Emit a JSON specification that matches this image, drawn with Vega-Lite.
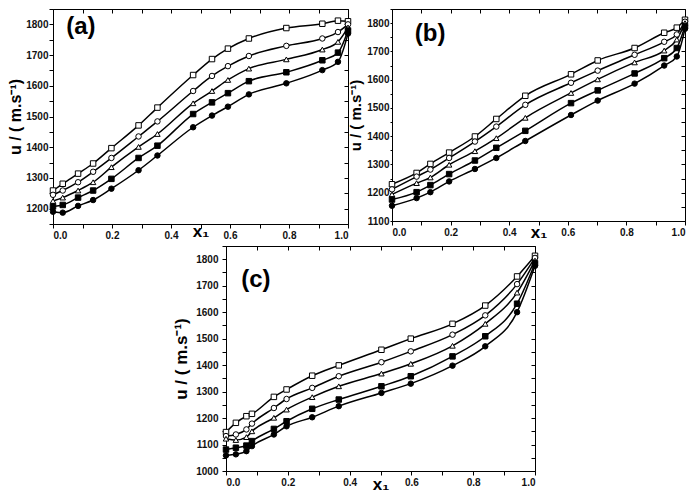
{
  "$schema": "https://vega.github.io/schema/vega-lite/v6.json",
  "background": "white",
  "padding": {"left": 7, "top": 3, "right": 0, "bottom": 0},
  "config": {
    "font": "Liberation Sans",
    "view": {"stroke": "black", "strokeWidth": 1},
    "axis": {
      "labelFont": "Liberation Sans", "labelFontWeight": "bold", "labelFontSize": 10, "labelColor": "#111",
      "tickColor": "black", "domainColor": "black", "tickSize": 4, "grid": false,
      "titleFont": "Liberation Sans", "titleFontWeight": "bold", "titleColor": "black", "labelOverlap": false
    }
  },
  "datasets": {
    "a": [
      {"x": 0, "S1": 1259, "S2": 1245, "S3": 1225, "S4": 1207, "S5": 1190},
      {"x": 0.033, "S1": 1281, "S2": 1259, "S3": 1236, "S4": 1212, "S5": 1187},
      {"x": 0.085, "S1": 1314, "S2": 1286, "S3": 1259, "S4": 1236, "S5": 1209},
      {"x": 0.136, "S1": 1347, "S2": 1320, "S3": 1286, "S4": 1259, "S5": 1228},
      {"x": 0.198, "S1": 1397, "S2": 1365, "S3": 1335, "S4": 1297, "S5": 1265},
      {"x": 0.29, "S1": 1471, "S2": 1435, "S3": 1401, "S4": 1365, "S5": 1325},
      {"x": 0.354, "S1": 1529, "S2": 1484, "S3": 1443, "S4": 1405, "S5": 1373},
      {"x": 0.475, "S1": 1635, "S2": 1583, "S3": 1543, "S4": 1508, "S5": 1465},
      {"x": 0.539, "S1": 1687, "S2": 1632, "S3": 1583, "S4": 1546, "S5": 1503},
      {"x": 0.593, "S1": 1721, "S2": 1664, "S3": 1619, "S4": 1576, "S5": 1532},
      {"x": 0.664, "S1": 1754, "S2": 1697, "S3": 1656, "S4": 1615, "S5": 1572},
      {"x": 0.791, "S1": 1788, "S2": 1730, "S3": 1686, "S4": 1644, "S5": 1608},
      {"x": 0.913, "S1": 1802, "S2": 1754, "S3": 1718, "S4": 1683, "S5": 1651},
      {"x": 0.966, "S1": 1812, "S2": 1775, "S3": 1743, "S4": 1708, "S5": 1678},
      {"x": 1.0, "S1": 1810, "S2": 1800, "S3": 1790, "S4": 1780, "S5": 1770}
    ],
    "b": [
      {"x": 0, "S1": 1230, "S2": 1212, "S3": 1194, "S4": 1176, "S5": 1154},
      {"x": 0.084, "S1": 1270, "S2": 1257, "S3": 1234, "S4": 1202, "S5": 1181},
      {"x": 0.131, "S1": 1302, "S2": 1282, "S3": 1254, "S4": 1227, "S5": 1202},
      {"x": 0.195, "S1": 1342, "S2": 1323, "S3": 1299, "S4": 1266, "S5": 1240},
      {"x": 0.283, "S1": 1399, "S2": 1381, "S3": 1347, "S4": 1314, "S5": 1284},
      {"x": 0.356, "S1": 1461, "S2": 1434, "S3": 1393, "S4": 1359, "S5": 1323},
      {"x": 0.455, "S1": 1543, "S2": 1511, "S3": 1465, "S4": 1419, "S5": 1383},
      {"x": 0.611, "S1": 1619, "S2": 1589, "S3": 1553, "S4": 1517, "S5": 1475},
      {"x": 0.702, "S1": 1668, "S2": 1632, "S3": 1601, "S4": 1562, "S5": 1526},
      {"x": 0.828, "S1": 1712, "S2": 1688, "S3": 1661, "S4": 1622, "S5": 1586},
      {"x": 0.929, "S1": 1766, "S2": 1734, "S3": 1703, "S4": 1676, "S5": 1650},
      {"x": 0.972, "S1": 1784, "S2": 1760, "S3": 1742, "S4": 1712, "S5": 1682},
      {"x": 1.0, "S1": 1812, "S2": 1805, "S3": 1800, "S4": 1790, "S5": 1780}
    ],
    "c": [
      {"x": 0, "S1": 1147, "S2": 1132, "S3": 1122, "S4": 1081, "S5": 1059},
      {"x": 0.032, "S1": 1182, "S2": 1138, "S3": 1117, "S4": 1088, "S5": 1063},
      {"x": 0.066, "S1": 1207, "S2": 1157, "S3": 1128, "S4": 1096, "S5": 1075},
      {"x": 0.084, "S1": 1216, "S2": 1179, "S3": 1150, "S4": 1113, "S5": 1094},
      {"x": 0.155, "S1": 1280, "S2": 1238, "S3": 1201, "S4": 1159, "S5": 1138},
      {"x": 0.196, "S1": 1308, "S2": 1272, "S3": 1232, "S4": 1188, "S5": 1169},
      {"x": 0.279, "S1": 1360, "S2": 1314, "S3": 1279, "S4": 1235, "S5": 1203},
      {"x": 0.365, "S1": 1399, "S2": 1358, "S3": 1320, "S4": 1270, "S5": 1245},
      {"x": 0.503, "S1": 1458, "S2": 1411, "S3": 1368, "S4": 1320, "S5": 1295},
      {"x": 0.598, "S1": 1500, "S2": 1452, "S3": 1405, "S4": 1358, "S5": 1330},
      {"x": 0.733, "S1": 1556, "S2": 1515, "S3": 1473, "S4": 1433, "S5": 1398},
      {"x": 0.839, "S1": 1625, "S2": 1588, "S3": 1556, "S4": 1509, "S5": 1471},
      {"x": 0.942, "S1": 1735, "S2": 1706, "S3": 1674, "S4": 1632, "S5": 1600},
      {"x": 1.0, "S1": 1813, "S2": 1805, "S3": 1795, "S4": 1785, "S5": 1775}
    ]
  },
  "spacing": -1,
  "vconcat": [
    {
      "spacing": -6,
      "hconcat": [
        {
          "width": 295, "height": 215,
          "data": {"name": "a"},
          "transform": [{"fold": ["S1", "S2", "S3", "S4", "S5"], "as": ["s", "u"]}],
          "layer": [
            {
              "mark": {"type": "line", "interpolate": "monotone", "color": "black", "strokeWidth": 1.5},
              "encoding": {
                "x": {"field": "x", "type": "quantitative", "scale": {"domain": [0, 1], "nice": false},
                  "axis": {"title": "x₁", "titleFontSize": 17, "titleBaseline": "alphabetic", "titleY": 12, "values": [0, 0.1, 0.2, 0.3, 0.4, 0.5, 0.6, 0.7, 0.8, 0.9, 1.0], "labelExpr": "round(datum.value*10) % 2 == 0 ? format(datum.value, '.1f') : ''", "labelPadding": 2}},
                "y": {"field": "u", "type": "quantitative", "scale": {"domain": [1150, 1850], "nice": false, "zero": false},
                  "axis": {"title": "u / ( m.s⁻¹)", "titleFontSize": 16, "titlePadding": 2, "labelPadding": 1, "format": "d", "values": [1150, 1200, 1250, 1300, 1350, 1400, 1450, 1500, 1550, 1600, 1650, 1700, 1750, 1800, 1850], "labelExpr": "datum.value % 100 == 0 ? datum.label : ''"}},
                "detail": {"field": "s"}
              }
            },
            {
              "mark": {"type": "point", "filled": true, "size": 30, "stroke": "black", "strokeWidth": 1, "opacity": 1},
              "encoding": {
                "x": {"field": "x", "type": "quantitative", "axis": {"orient": "top", "labels": false, "title": null, "domain": false, "tickSize": -4, "values": [0, 0.1, 0.2, 0.3, 0.4, 0.5, 0.6, 0.7, 0.8, 0.9, 1.0]}},
                "y": {"field": "u", "type": "quantitative", "axis": {"orient": "right", "labels": false, "title": null, "domain": false, "tickSize": -4, "values": [1150, 1200, 1250, 1300, 1350, 1400, 1450, 1500, 1550, 1600, 1650, 1700, 1750, 1800, 1850]}},
                "shape": {"field": "s", "scale": {"domain": ["S1", "S2", "S3", "S4", "S5"], "range": ["square", "circle", "triangle-up", "square", "circle"]}, "legend": null},
                "fill": {"field": "s", "scale": {"domain": ["S1", "S2", "S3", "S4", "S5"], "range": ["white", "white", "white", "black", "black"]}, "legend": null}
              }
            },
            {
              "data": {"values": [{"t": "(a)"}]},
              "mark": {"type": "text", "fontSize": 24, "fontWeight": "bold", "align": "left", "baseline": "middle", "color": "black"},
              "encoding": {
                "text": {"field": "t"},
                "x": {"datum": 0.045, "type": "quantitative", "axis": null},
                "y": {"datum": 1790, "type": "quantitative", "axis": null}
              }
            }
          ],
          "resolve": {"axis": {"x": "independent", "y": "independent"}}
        },
        {
          "width": 293, "height": 212,
          "data": {"name": "b"},
          "transform": [{"fold": ["S1", "S2", "S3", "S4", "S5"], "as": ["s", "u"]}],
          "layer": [
            {
              "mark": {"type": "line", "interpolate": "monotone", "color": "black", "strokeWidth": 1.5},
              "encoding": {
                "x": {"field": "x", "type": "quantitative", "scale": {"domain": [0, 1], "nice": false},
                  "axis": {"title": "x₁", "titleFontSize": 17, "titleBaseline": "alphabetic", "titleY": 16, "values": [0, 0.1, 0.2, 0.3, 0.4, 0.5, 0.6, 0.7, 0.8, 0.9, 1.0], "labelExpr": "round(datum.value*10) % 2 == 0 ? format(datum.value, '.1f') : ''", "labelPadding": 2}},
                "y": {"field": "u", "type": "quantitative", "scale": {"domain": [1100, 1850], "nice": false, "zero": false},
                  "axis": {"title": "u / ( m.s⁻¹)", "titleFontSize": 15, "titlePadding": 3, "labelPadding": 1, "tickSize": 2, "format": "d", "values": [1100, 1150, 1200, 1250, 1300, 1350, 1400, 1450, 1500, 1550, 1600, 1650, 1700, 1750, 1800, 1850], "labelExpr": "datum.value % 100 == 0 ? datum.label : ''"}},
                "detail": {"field": "s"}
              }
            },
            {
              "mark": {"type": "point", "filled": true, "size": 30, "stroke": "black", "strokeWidth": 1, "opacity": 1},
              "encoding": {
                "x": {"field": "x", "type": "quantitative", "axis": {"orient": "top", "labels": false, "title": null, "domain": false, "tickSize": -4, "values": [0, 0.1, 0.2, 0.3, 0.4, 0.5, 0.6, 0.7, 0.8, 0.9, 1.0]}},
                "y": {"field": "u", "type": "quantitative", "axis": {"orient": "right", "labels": false, "title": null, "domain": false, "tickSize": -4, "values": [1100, 1150, 1200, 1250, 1300, 1350, 1400, 1450, 1500, 1550, 1600, 1650, 1700, 1750, 1800, 1850]}},
                "shape": {"field": "s", "scale": {"domain": ["S1", "S2", "S3", "S4", "S5"], "range": ["square", "circle", "triangle-up", "square", "circle"]}, "legend": null},
                "fill": {"field": "s", "scale": {"domain": ["S1", "S2", "S3", "S4", "S5"], "range": ["white", "white", "white", "black", "black"]}, "legend": null}
              }
            },
            {
              "data": {"values": [{"t": "(b)"}]},
              "mark": {"type": "text", "fontSize": 24, "fontWeight": "bold", "align": "left", "baseline": "middle", "color": "black"},
              "encoding": {
                "text": {"field": "t"},
                "x": {"datum": 0.078, "type": "quantitative", "axis": null},
                "y": {"datum": 1763, "type": "quantitative", "axis": null}
              }
            }
          ],
          "resolve": {"axis": {"x": "independent", "y": "independent"}}
        }
      ]
    },
    {
      "spacing": 0,
      "hconcat": [
        {
          "width": 119, "height": 10,
          "data": {"values": []},
          "mark": {"type": "point", "opacity": 0},
          "encoding": {},
          "view": {"stroke": null}
        },
        {
          "width": 309, "height": 225,
          "data": {"name": "c"},
          "transform": [{"fold": ["S1", "S2", "S3", "S4", "S5"], "as": ["s", "u"]}],
          "layer": [
            {
              "mark": {"type": "line", "interpolate": "monotone", "color": "black", "strokeWidth": 1.5},
              "encoding": {
                "x": {"field": "x", "type": "quantitative", "scale": {"domain": [0, 1], "nice": false},
                  "axis": {"title": "x₁", "titleFontSize": 17, "titleBaseline": "alphabetic", "titleY": 18, "values": [0, 0.1, 0.2, 0.3, 0.4, 0.5, 0.6, 0.7, 0.8, 0.9, 1.0], "labelExpr": "round(datum.value*10) % 2 == 0 ? format(datum.value, '.1f') : ''", "labelPadding": 2}},
                "y": {"field": "u", "type": "quantitative", "scale": {"domain": [1000, 1850], "nice": false, "zero": false},
                  "axis": {"title": "u / ( m.s⁻¹)", "titleFontSize": 17, "titlePadding": 5, "labelPadding": 4, "format": "d", "values": [1000, 1050, 1100, 1150, 1200, 1250, 1300, 1350, 1400, 1450, 1500, 1550, 1600, 1650, 1700, 1750, 1800, 1850], "labelExpr": "datum.value % 100 == 0 ? datum.label : ''"}},
                "detail": {"field": "s"}
              }
            },
            {
              "mark": {"type": "point", "filled": true, "size": 30, "stroke": "black", "strokeWidth": 1, "opacity": 1},
              "encoding": {
                "x": {"field": "x", "type": "quantitative", "axis": {"orient": "top", "labels": false, "title": null, "domain": false, "tickSize": -4, "values": [0, 0.1, 0.2, 0.3, 0.4, 0.5, 0.6, 0.7, 0.8, 0.9, 1.0]}},
                "y": {"field": "u", "type": "quantitative", "axis": {"orient": "right", "labels": false, "title": null, "domain": false, "tickSize": -4, "values": [1000, 1050, 1100, 1150, 1200, 1250, 1300, 1350, 1400, 1450, 1500, 1550, 1600, 1650, 1700, 1750, 1800, 1850]}},
                "shape": {"field": "s", "scale": {"domain": ["S1", "S2", "S3", "S4", "S5"], "range": ["square", "circle", "triangle-up", "square", "circle"]}, "legend": null},
                "fill": {"field": "s", "scale": {"domain": ["S1", "S2", "S3", "S4", "S5"], "range": ["white", "white", "white", "black", "black"]}, "legend": null}
              }
            },
            {
              "data": {"values": [{"t": "(c)"}]},
              "mark": {"type": "text", "fontSize": 24, "fontWeight": "bold", "align": "left", "baseline": "middle", "color": "black"},
              "encoding": {
                "text": {"field": "t"},
                "x": {"datum": 0.049, "type": "quantitative", "axis": null},
                "y": {"datum": 1722, "type": "quantitative", "axis": null}
              }
            }
          ],
          "resolve": {"axis": {"x": "independent", "y": "independent"}}
        }
      ]
    }
  ]
}
